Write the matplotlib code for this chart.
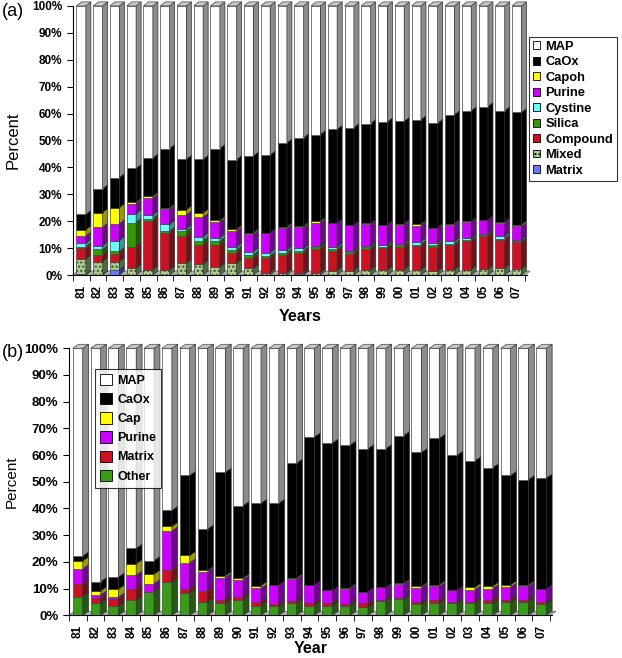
import matplotlib
matplotlib.use("Agg")
import matplotlib.pyplot as plt
import numpy as np
from matplotlib.patches import Patch, Polygon

plt.rcParams["font.family"] = ["Liberation Sans", "DejaVu Sans"]

years = ["81", "82", "83", "84", "85", "86", "87", "88", "89", "90", "91", "92", "93", "94",
         "95", "96", "97", "98", "99", "00", "01", "02", "03", "04", "05", "06", "07"]

# panel (a): percent of stones per type, bottom to top
a_matrix = [0.3, 0.2, 2.0, 0, 0, 0, 0, 0, 0, 0, 0, 0, 0, 0.5, 0, 0, 0, 0, 0, 0, 0, 0, 0, 0, 0, 0, 0]
a_mixed = [5.7, 4.8, 3.0, 2.5, 2.0, 2.0, 4.3, 4.0, 3.0, 4.3, 2.5, 0.9, 0.9, 0.3, 0.9, 1.6, 1.6,
           1.9, 1.9, 2.0, 2.0, 1.4, 2.0, 2.0, 2.2, 2.6, 2.2]
a_compound = [4.0, 2.5, 3.0, 8.0, 18.0, 13.8, 10.2, 7.0, 8.3, 4.0, 3.7, 5.3, 6.5, 7.5, 8.8, 7.4,
              6.4, 7.8, 8.0, 8.6, 8.9, 9.2, 9.0, 10.5, 12.2, 10.5, 9.9]
a_silica = [0.5, 2.0, 0.8, 9.0, 1.0, 0.5, 1.7, 1.8, 1.2, 1.0, 1.2, 0.9, 0.9, 0.7, 0.8, 0.7, 0.5,
            0.6, 0.6, 0.4, 0.4, 0.7, 0.6, 0.6, 0.3, 0.4, 0.4]
a_cystine = [1.3, 1.3, 4.0, 3.3, 1.3, 2.5, 1.0, 1.4, 1.3, 1.2, 1.3, 1.2, 1.0, 0.9, 0.4, 0.8, 0.5,
             0.6, 0.6, 0.6, 1.0, 0.6, 0.9, 0.6, 0.5, 0.9, 0.6]
a_purine = [2.7, 7.0, 6.2, 3.7, 6.2, 5.7, 5.1, 7.3, 5.9, 5.8, 6.4, 7.2, 8.0, 7.8, 8.5, 8.7, 9.6,
            8.0, 7.5, 7.1, 6.1, 5.6, 6.2, 5.9, 5.1, 4.9, 5.0]
a_capoh = [2.3, 5.4, 6.0, 0.5, 0.7, 0.5, 1.9, 1.5, 0.6, 0.7, 0.6, 0.2, 0.6, 0.5, 0.6, 0.1, 0.1,
           0.3, 0.1, 0.4, 0.5, 0.1, 0.4, 0.3, 0.2, 0.4, 0.6]
a_caox = [5.7, 8.8, 11.2, 12.6, 14.3, 22.0, 18.8, 20.0, 26.7, 25.9, 28.5, 28.9, 31.2, 32.8, 32.2,
          34.8, 36.1, 37.1, 38.2, 38.0, 38.8, 38.8, 40.4, 41.1, 42.1, 41.3, 41.7]

# panel (b)
b_other = [7.0, 4.5, 3.3, 5.6, 8.9, 12.4, 8.3, 5.0, 4.5, 5.8, 3.6, 3.3, 4.5, 3.6, 3.6, 3.6, 3.0,
           5.3, 6.0, 4.1, 4.5, 4.5, 4.5, 4.5, 4.8, 5.1, 4.1]
b_matrix = [4.6, 1.9, 2.7, 4.4, 0, 4.7, 1.6, 4.1, 1.3, 1.2, 1.5, 0.8, 1.0, 0.9, 1.0, 0.8, 1.5,
            0.5, 0.3, 0.8, 1.1, 0.4, 0.6, 1.1, 1.0, 0.8, 0.7]
b_purine = [5.8, 1.2, 0.8, 5.0, 2.9, 14.5, 9.7, 7.3, 8.3, 6.3, 5.0, 7.3, 8.0, 6.9, 4.7, 5.6, 4.4,
            4.7, 5.3, 5.4, 5.2, 4.5, 4.4, 4.4, 4.7, 5.0, 5.1]
b_cap = [3.0, 1.5, 3.0, 4.3, 3.6, 1.7, 2.8, 0.4, 0.7, 0.6, 1.0, 0, 0.5, 0, 0, 0.4, 0, 0, 0.4,
         0.5, 0.6, 0, 1.0, 0.9, 0.9, 0.5, 0]
b_caox = [1.8, 3.5, 4.5, 5.8, 5.1, 6.0, 30.0, 15.5, 38.8, 27.2, 30.9, 30.6, 43.0, 55.4, 55.2,
          53.4, 53.5, 51.9, 55.3, 50.2, 54.9, 50.6, 47.4, 44.4, 41.0, 39.4, 41.5]


def with_map(segments):
    total = np.sum(np.array(segments, dtype=float), axis=0)
    return list(segments) + [100 - total]


def draw_3d(ax, series, styles, w, dx, dy):
    n = len(series[0])
    x = np.arange(n)
    # floor
    ax.add_patch(Polygon([(-0.5, 0), (-0.5 + dx, dy), (n - 0.5 + dx, dy), (n - 0.5, 0)],
                         closed=True, fc="#b0b0b0", ec="#666666", lw=0.5, zorder=1, clip_on=False))
    bottom = np.zeros(n)
    for vals, (face, side, hatch) in zip(series, styles):
        vals = np.asarray(vals, dtype=float)
        ax.bar(x, vals, w, bottom=bottom, color=face, edgecolor="#444444", lw=0.5,
               hatch=hatch, zorder=3)
        for i in range(n):
            if vals[i] <= 0:
                continue
            b, t = bottom[i], bottom[i] + vals[i]
            xr = x[i] + w / 2
            ax.add_patch(Polygon([(xr, b), (xr + dx, b + dy), (xr + dx, t + dy), (xr, t)],
                                 closed=True, fc=side, ec="#333333", lw=0.5, zorder=3,
                                 clip_on=False))
        bottom += vals
    for i in range(n):
        xl = x[i] - w / 2
        ax.add_patch(Polygon([(xl, 100), (xl + dx, 100 + dy), (xl + w + dx, 100 + dy),
                              (xl + w, 100)], closed=True, fc="#c8c8c8", ec="#444444",
                             lw=0.5, zorder=3, clip_on=False))
    ax.set_xlim(-0.5, n - 0.4)
    ax.set_ylim(0, 100)
    ax.set_yticks(np.arange(0, 101, 10))
    ax.set_yticklabels([f"{v}%" for v in range(0, 101, 10)], fontweight="bold")
    ax.set_xticks(x)
    ax.set_xticklabels(years, rotation=90, fontweight="bold")
    ax.set_xticks(np.arange(-0.5, n, 1), minor=True)
    ax.tick_params(axis="x", which="major", length=0)
    ax.tick_params(axis="x", which="minor", length=4, direction="out")
    ax.tick_params(axis="y", length=4, direction="out")
    ax.spines["top"].set_visible(False)
    ax.spines["right"].set_visible(False)


fig = plt.figure(figsize=(6.22, 6.58), dpi=100)

# ---- panel (a)
ax1 = fig.add_axes([0.117, 0.582, 0.730, 0.409])
a_names = ["Matrix", "Mixed", "Compound", "Silica", "Cystine", "Purine", "Capoh", "CaOx", "MAP"]
a_styles = [("#6677ff", "#333399", None), ("#a8d08a", "#4d6b3a", "...."),
            ("#cc1122", "#771015", None), ("#339900", "#1e5c00", None),
            ("#66ffff", "#339999", None), ("#cc00ff", "#770099", None),
            ("#ffff00", "#999900", None), ("#000000", "#000000", None),
            ("#ffffff", "#8c8c8c", None)]
a_series = with_map([a_matrix, a_mixed, a_compound, a_silica, a_cystine, a_purine, a_capoh, a_caox])
draw_3d(ax1, a_series, a_styles, 0.56, 0.3, 1.5)
ax1.tick_params(axis="y", labelsize=8.5)
ax1.tick_params(axis="x", which="major", labelsize=8.5, pad=7)
ax1.set_ylabel("Percent", fontsize=12, labelpad=8)
ax1.set_xlabel("Years", fontsize=11.5, fontweight="bold", labelpad=8)
handles = [Patch(fc=f, ec="black", lw=0.6, hatch=h) for f, s, h in a_styles][::-1]
leg1 = ax1.legend(handles, a_names[::-1], loc="upper left", bbox_to_anchor=(1.004, 0.885),
                  borderaxespad=0, frameon=True, fancybox=False, edgecolor="black",
                  handlelength=0.55, handleheight=0.55, handletextpad=0.45, labelspacing=0.27,
                  borderpad=0.3, prop={"weight": "bold", "size": 9.3})
leg1.get_frame().set_linewidth(0.8)
fig.text(0.003, 0.982, "(a)", fontsize=13, va="center")

# ---- panel (b)
ax2 = fig.add_axes([0.1106, 0.0649, 0.7768, 0.4058])
b_names = ["Other", "Matrix", "Purine", "Cap", "CaOx", "MAP"]
b_styles = [("#3a9a1a", "#235a10", None), ("#cc1122", "#771015", None),
            ("#cc00ff", "#770099", None), ("#ffff00", "#999900", None),
            ("#000000", "#000000", None), ("#ffffff", "#8c8c8c", None)]
b_series = with_map([b_other, b_matrix, b_purine, b_cap, b_caox])
draw_3d(ax2, b_series, b_styles, 0.56, 0.33, 1.5)
ax2.tick_params(axis="y", labelsize=9.5)
ax2.tick_params(axis="x", which="major", labelsize=8.5, pad=7)
ax2.set_ylabel("Percent", fontsize=11, labelpad=4)
ax2.set_xlabel("Year", fontsize=11.5, fontweight="bold", labelpad=2)
handles = [Patch(fc=f, ec="black", lw=0.6) for f, s, h in b_styles][::-1]
leg2 = ax2.legend(handles, b_names[::-1], loc="upper left", bbox_to_anchor=(0.054, 0.922),
                  borderaxespad=0, frameon=True, fancybox=False, edgecolor="black",
                  handlelength=1.0, handleheight=1.0, handletextpad=0.4, labelspacing=0.5,
                  borderpad=0.4, prop={"weight": "bold", "size": 9})
leg2.get_frame().set_linewidth(0.8)
fig.text(0.003, 0.465, "(b)", fontsize=13, va="center")

fig.savefig("out.png", dpi=100)
